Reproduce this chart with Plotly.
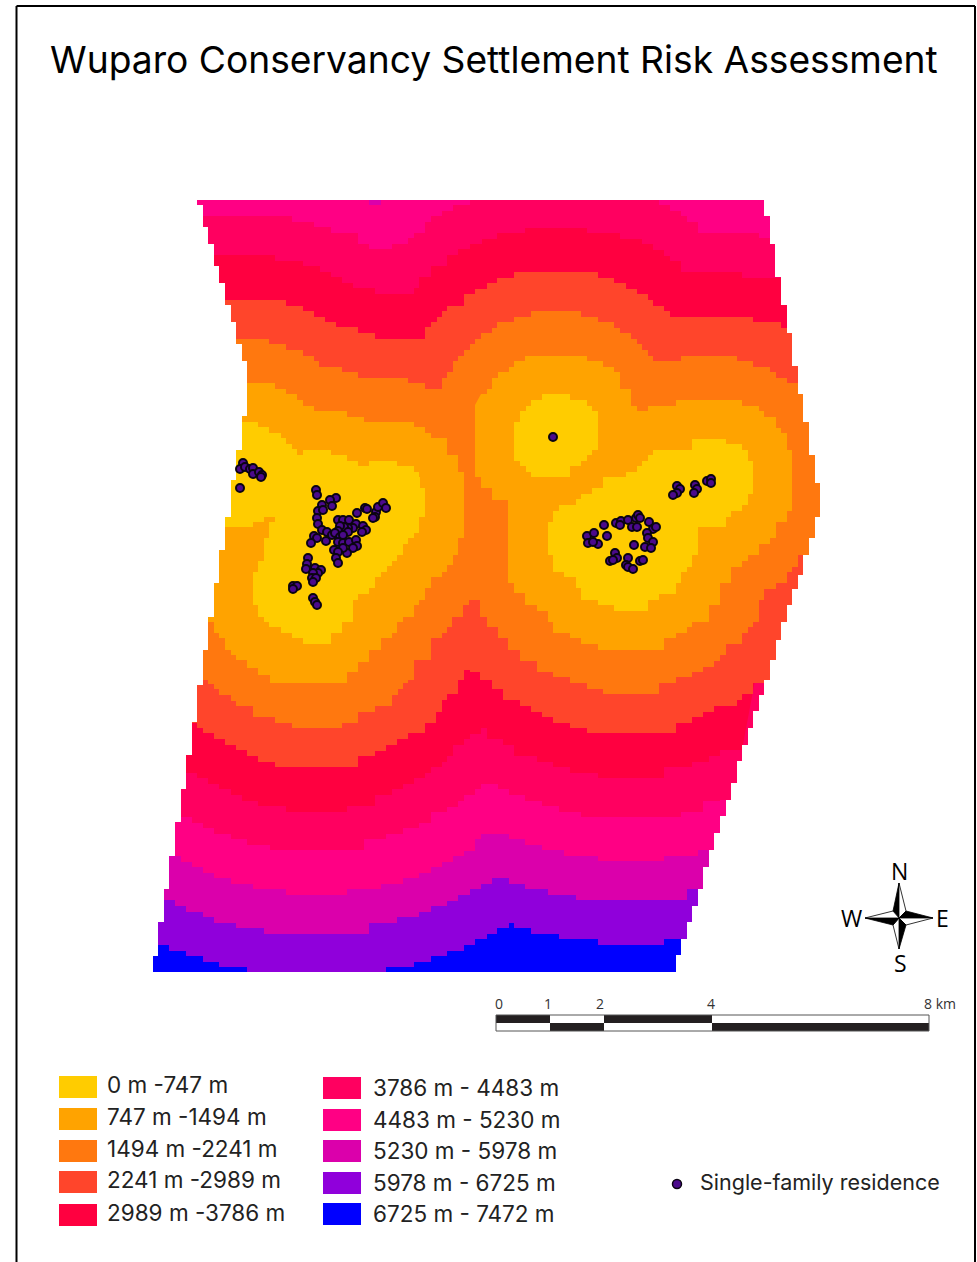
import plotly.graph_objects as go

TITLE = "Wuparo Conservancy Settlement Risk Assessment"
BAND_LABELS = ["0 m -747 m", "747 m -1494 m", "1494 m -2241 m", "2241 m -2989 m", "2989 m -3786 m",
               "3786 m - 4483 m", "4483 m - 5230 m", "5230 m - 5978 m", "5978 m - 6725 m", "6725 m - 7472 m"]
BAND_COLORS = ["#FFCC00", "#FFA300", "#FF780F", "#FF452B", "#FF0040",
               "#FF0060", "#FF0084", "#DB00AB", "#9000DB", "#0000FF"]

# Map outline
EDGE_LEFT = [(197,200),(203,205),(208,227),(214,244),(219,266),(225,283),(231,305),(236,322),(242,344),(247,361),
             (242,416),(236,450),(231,480),(225,517),(219,550),(214,583),(208,617),(203,650),(197,685),(192,722),
             (186,755),(181,789),(175,822),(169,856),(164,889),(158,922),(153,956),(153,972)]
EDGE_RIGHT = [(764,200),(770,216),(775,244),(781,277),(787,305),(792,333),(798,366),(803,394),(809,422),(815,455),
              (820,483),(815,517),(809,538),(803,555),(798,575),(792,589),(787,605),(781,622),(776,640),(770,660),
              (764,680),(759,695),(753,711),(748,728),(742,745),(737,761),(731,783),(726,800),(720,816),(714,833),
              (709,850),(703,867),(698,889),(692,906),(687,922),(681,939),(676,955),(676,972)]

# Band limits (outer limit of each distance class)
BLUE_TOP = [(158,945),(169,951),(186,956),(203,962),(219,967),(247,972),(386,972),(386,967),(414,962),(431,956),
            (447,951),(464,945),(475,939),(487,934),(497,928),(509,923),(514,928),(531,934),(559,939),(598,945),
            (664,945),(664,939),(681,939)]
R7_BOTTOM = [(703,889),(698,889),(687,895),(687,900),(576,900),(576,895),(548,889),(525,884),(509,878),(498,878),
             (492,884),(481,889),(470,895),(458,901),(447,906),(431,912),(419,917),(397,923),(369,928),(369,934),
             (264,934),(264,928),(236,923),(214,917),(203,912),(186,906),(175,900),(164,900)]
R6_BOTTOM = [(714,850),(698,850),(698,856),(664,856),(664,861),(598,861),(598,856),(564,850),(542,845),(525,839),
             (509,834),(492,834),(481,839),(475,851),(464,856),(453,862),(442,867),(431,873),(419,878),(403,884),
             (381,889),(347,895),(286,895),(286,889),(253,884),(231,878),(214,873),(203,867),(192,862),(181,856)]
R6_NOTCH = [(140,200),(369,200),(369,205),(381,205),(381,200),(830,200)]
R5_TOP = [(140,216),(292,216),(292,222),(314,222),(314,227),(331,233),(347,233),(358,244),(369,249),(392,249),
          (392,244),(397,244),(408,238),(414,233),(425,227),(425,222),(431,216),(442,211),(453,205),(470,200),
          (642,200),(659,205),(670,211),(681,216),(687,222),(698,227),(698,233),(759,233),(759,238),(830,238)]
R5_BOTTOM = [(731,800),(720,801),(703,806),(703,812),(681,812),(681,817),(581,817),(581,812),(559,806),(542,801),
             (525,795),(509,789),(498,784),(487,784),(481,789),(475,795),(464,801),(458,807),(447,812),(431,823),
             (419,828),(403,834),(386,839),(364,845),(364,850),(270,850),(270,845),(247,839),(231,834),(214,828),
             (203,823),(192,817),(140,817)]
R4_TOP = [(140,255),(275,255),(275,261),(303,266),(320,272),(331,277),(342,283),(353,288),(375,294),(408,294),
          (414,288),(419,277),(431,266),(447,255),(458,249),(470,244),(482,239),(497,233),(525,228),(587,228),
          (587,233),(614,233),(620,239),(642,244),(653,250),(664,256),(670,261),(681,267),(681,272),(742,272),
          (742,278),(830,278)]
R4_BOTTOM = [(742,750),(731,750),(720,756),(709,762),(692,767),(664,773),(664,778),(598,778),(598,773),(570,767),
             (553,762),(537,756),(514,745),(503,739),(487,728),(481,734),(470,739),(464,745),(453,756),(447,762),
             (442,767),(431,773),(425,778),(414,784),(403,789),(392,795),(375,801),(375,806),(347,806),(347,812),
             (286,812),(286,806),(258,806),(258,801),(242,795),(231,789),(219,784),(208,778),(197,773),(140,773)]
R3_TOP = [(140,300),(286,300),(286,306),(303,311),(314,317),(325,322),(336,327),(358,333),(375,339),(425,339),
          (425,327),(431,322),(437,317),(442,311),(447,306),(464,294),(475,289),(487,283),(497,278),(514,272),
          (598,272),(598,278),(614,283),(626,289),(637,294),(648,300),(653,306),(664,311),(670,317),(753,317),
          (753,322),(770,322),(781,328),(787,333),(830,333)]
R3_BOTTOM = [(764,683),(753,694),(742,700),(737,706),(714,712),(703,717),(692,723),(676,728),(676,733),(587,733),
             (587,728),(570,723),(553,717),(542,712),(531,706),(520,700),(503,689),(492,680),(480,672),(470,670),
             (464,680),(458,694),(447,700),(442,712),(436,723),(425,733),(408,739),(397,745),(386,751),(375,756),
             (358,762),(358,767),(275,767),(275,762),(258,756),(247,750),(236,745),(225,739),(214,733),(203,728),
             (197,723),(140,723)]
R2_TOP = [(140,339),(269,339),(269,344),(286,350),(303,356),(314,361),(319,367),(342,372),(358,378),(408,378),
          (408,383),(425,389),(442,389),(442,378),(447,372),(453,361),(458,356),(464,350),(470,344),(475,339),
          (481,333),(492,328),(497,322),(514,317),(531,311),(581,311),(581,317),(598,322),(614,328),(620,333),
          (631,339),(637,344),(642,350),(648,356),(653,361),(681,361),(681,356),(737,356),(737,361),(753,367),
          (770,372),(776,378),(787,383),(798,389),(830,389)]
R2_BOTTOM = [(803,555),(798,567),(792,572),(787,583),(781,583),(776,589),(764,600),(759,606),(759,622),(753,627),
             (748,633),(742,644),(726,655),(720,661),(714,667),(703,672),(692,677),(676,683),(659,689),(659,694),
             (603,694),(603,689),(587,683),(570,677),(553,672),(537,661),(520,650),(508,638),(498,627),(487,617),
             (480,600),(469,595),(469,605),(463,617),(452,627),(447,633),(442,638),(431,644),(431,660),(414,680),
             (408,683),(403,689),(398,695),(392,706),(375,712),(358,717),(358,723),(342,723),(342,728),(292,728),
             (292,723),(275,723),(275,717),(258,717),(253,706),(236,701),(231,695),(219,689),(214,684),(208,680),
             (140,680)]
R1_LEFT = [(140,383),(275,383),(275,389),(286,394),(297,400),(303,406),(314,411),(347,411),(347,417),(364,422),
           (414,422),(414,427),(425,427),(425,433),(431,438),(442,438),(447,444),(447,455),(453,455),(458,461),
           (458,472),(464,472),(464,538),(458,555),(453,565),(447,572),(442,577),(431,588),(425,600),(419,605),
           (414,617),(403,622),(397,633),(392,638),(381,650),(369,662),(358,672),(347,683),(286,683),(270,675),
           (258,668),(247,660),(236,655),(231,650),(225,638),(219,633),(214,622),(208,617),(140,617)]
R1_RIGHT = [(481,394),(487,389),(492,378),(498,372),(509,367),(514,361),(525,356),(587,356),(587,361),(598,361),
            (603,367),(614,372),(620,378),(620,389),(626,389),(631,394),(631,406),(637,406),(637,411),(648,411),
            (648,406),(676,406),(676,400),(742,400),(742,406),(753,406),(759,411),(764,417),(776,422),(776,428),
            (781,433),(787,439),(787,450),(792,450),(792,511),(787,511),(787,522),(776,527),(776,538),(770,544),
            (764,544),(759,555),(748,561),(742,567),(731,572),(731,583),(720,594),(720,605),(709,611),(709,622),
            (692,627),(687,633),(676,638),(664,644),(664,650),(598,650),(598,644),(581,638),(570,633),(553,622),
            (548,611),(537,605),(525,593),(514,583),(508,572),(508,500),(498,500),(492,488),(481,477),(475,467),
            (475,405)]
R0_LEFT = [(140,422),(258,422),(258,427),(269,427),(269,433),(281,433),(281,438),(286,444),(292,449),(297,455),
           (303,450),(331,450),(331,455),(347,455),(347,461),(358,466),(369,466),(369,461),(397,461),(397,466),
           (408,466),(414,472),(419,477),(420,488),(425,488),(425,517),(419,522),(419,533),(414,538),(408,544),
           (403,555),(397,561),(392,566),(387,572),(381,577),(375,588),(369,594),(358,600),(353,611),(353,622),
           (342,633),(331,638),(331,644),(303,644),(303,638),(292,633),(281,627),(269,622),(264,617),(258,605),
           (253,593),(253,572),(258,561),(264,555),(264,538),(269,522),(275,522),(275,517),(264,517),(264,522),
           (253,522),(253,527),(140,527)]
R0_CIRCLE = [(514,422),(520,411),(526,406),(531,400),(542,394),(570,394),(570,400),(581,400),(587,406),(592,411),
             (598,422),(598,450),(592,455),(587,461),(581,466),(570,472),(570,477),(542,477),(531,472),(526,466),
             (520,461),(514,450)]
R0_RIGHT = [(548,522),(553,511),(559,505),(576,499),(581,494),(592,488),(603,477),(626,472),(637,466),(642,461),
            (648,455),(653,450),(664,450),(692,445),(692,439),(726,439),(726,444),(737,444),(742,450),(748,461),
            (753,467),(753,494),(748,499),(748,505),(742,511),(731,517),(726,527),(698,533),(698,555),(692,567),
            (687,572),(681,583),(676,594),(659,600),(648,611),(614,611),(614,605),(598,600),(581,588),(576,577),
            (564,572),(553,555),(548,555)]

# Residences
RES_X = [243,240,245,250,253,253,259,262,261,240,316,317,336,330,322,332,318,323,317,318,322,327,314,317,311,326,332,
         338,343,349,357,365,367,376,378,383,386,375,373,356,363,366,362,353,348,344,340,338,335,340,348,343,338,343,
         349,356,357,353,347,343,334,338,336,338,308,307,306,315,321,318,313,312,316,313,293,297,293,313,315,317,
         553,677,680,677,673,695,697,694,707,711,711,604,607,587,594,588,598,593,616,621,620,628,632,637,636,638,640,
         649,653,656,647,648,653,645,651,634,615,617,610,613,628,626,628,633,640,643]
RES_Y = [463,469,467,469,468,474,472,475,477,488,490,495,498,500,505,506,511,510,518,524,530,532,536,538,543,541,535,
         520,520,520,513,508,509,512,507,503,508,517,518,524,526,530,532,528,528,527,526,531,533,537,532,535,542,543,
         542,540,546,548,553,548,550,552,558,563,558,564,569,568,570,573,573,578,578,582,586,586,589,598,602,605,
         437,486,489,493,495,485,489,493,481,479,483,525,536,536,533,543,544,542,523,521,525,520,527,527,518,515,518,
         522,529,527,533,538,542,547,548,545,553,558,561,560,558,565,567,569,561,560]

SCALE_TICKS = [0, 1, 2, 4, 8]
SCALE_X = [496, 550, 604, 712, 929]


def stepped(pts):
    out = [pts[0]]
    for (x0, y0), (x1, y1) in zip(pts, pts[1:]):
        if x1 != x0 and y1 != y0:
            out.append((x1, y0))
        out.append((x1, y1))
    return out


def vstep(pts):
    out = [pts[0]]
    for (x0, y0), (x1, y1) in zip(pts, pts[1:]):
        if x1 != x0 and y1 != y0:
            out.append((x0, y1))
        out.append((x1, y1))
    return out


def region(*rings):
    xs, ys = [], []
    for i, ring in enumerate(rings):
        if i:
            xs.append(None); ys.append(None)
        xs += [p[0] for p in ring]; ys += [p[1] for p in ring]
    return xs, ys


def add_poly(fig, rings, color, name):
    xs, ys = region(*rings)
    fig.add_trace(go.Scatter(x=xs, y=ys, mode="lines", fill="toself", fillcolor=color,
                             line=dict(width=0, color=color), name=name, hoverinfo="name", showlegend=False))


fig = go.Figure()
top = [(140, 200), (830, 200)]
regions = {
    9: [[(140, 200), (830, 200), (830, 972), (140, 972)]],
    8: [top + [(830, 939)] + stepped(BLUE_TOP)[::-1] + [(140, 945)]],
    7: [top + [(830, 889)] + stepped(R7_BOTTOM) + [(140, 900)]],
    6: [stepped(R6_NOTCH) + [(830, 850)] + stepped(R6_BOTTOM) + [(140, 856)]],
    5: [stepped(R5_TOP) + [(830, 800)] + stepped(R5_BOTTOM)],
    4: [stepped(R4_TOP) + stepped(R4_BOTTOM)],
    3: [stepped(R3_TOP) + [(830, 683)] + stepped(R3_BOTTOM)],
    2: [stepped(R2_TOP) + [(830, 555)] + stepped(R2_BOTTOM)],
    1: [stepped(R1_LEFT), stepped(R1_RIGHT)],
    0: [stepped(R0_LEFT), stepped(R0_CIRCLE), stepped(R0_RIGHT)],
}
for i in range(9, -1, -1):
    add_poly(fig, regions[i], BAND_COLORS[i], BAND_LABELS[i])

add_poly(fig, [vstep(EDGE_LEFT) + [(125, 972), (125, 200)]], "white", "mask")
add_poly(fig, [vstep(EDGE_RIGHT) + [(850, 972), (850, 200)]], "white", "mask")

fig.add_trace(go.Scatter(x=RES_X, y=RES_Y, mode="markers",
                         marker=dict(size=8, color="#4B0A8C", line=dict(color="#0a0412", width=2)),
                         name="Single-family residence", showlegend=False))
fig.add_trace(go.Scatter(x=[677], y=[1184], mode="markers",
                         marker=dict(size=9, color="#4B0A8C", line=dict(color="#0a0412", width=1.5)),
                         showlegend=False, hoverinfo="skip"))

# Compass
arms = [
    ([899, 893, 899], [883, 911, 918], "black"), ([899, 906, 899], [883, 911, 918], "white"),
    ([933, 906, 899], [918, 911, 918], "black"), ([933, 906, 899], [918, 925, 918], "white"),
    ([899, 906, 899], [949, 925, 918], "black"), ([899, 893, 899], [949, 925, 918], "white"),
    ([865, 893, 899], [918, 925, 918], "black"), ([865, 893, 899], [918, 911, 918], "white"),
]
for ax, ay, col in arms:
    fig.add_trace(go.Scatter(x=ax + ax[:1], y=ay + ay[:1], mode="lines", fill="toself", fillcolor=col,
                             line=dict(color="black", width=0.8), showlegend=False, hoverinfo="skip"))

shapes = []
for x0, y0, x1, y1 in [(16.5, 6, 16.5, 1262), (16.5, 6, 975, 6), (975, 6, 975, 1262)]:
    shapes.append(dict(type="line", xref="x", yref="y", x0=x0, y0=y0, x1=x1, y1=y1, line=dict(color="black", width=2)))

BAR = "#231F20"
for j, (a, b) in enumerate(zip(SCALE_X, SCALE_X[1:])):
    top_dark = j % 2 == 0
    shapes.append(dict(type="rect", xref="x", yref="y", x0=a, x1=b, y0=1015, y1=1023,
                       fillcolor=BAR if top_dark else "white", line=dict(width=0)))
    shapes.append(dict(type="rect", xref="x", yref="y", x0=a, x1=b, y0=1023, y1=1031,
                       fillcolor="white" if top_dark else BAR, line=dict(width=0)))
shapes.append(dict(type="rect", xref="x", yref="y", x0=496, x1=929, y0=1015, y1=1031,
                   line=dict(color="#555555", width=1), fillcolor="rgba(0,0,0,0)"))

SW_Y_A = [1076, 1108, 1140, 1171, 1204]
SW_Y_B = [1077, 1109, 1140, 1172, 1203]
TX_Y_A = [1084, 1116, 1148, 1179, 1212]
TX_Y_B = [1087, 1119, 1150, 1182, 1213]
anns = []
FONT = "Inter"
for i in range(5):
    shapes.append(dict(type="rect", xref="x", yref="y", x0=59, x1=97, y0=SW_Y_A[i], y1=SW_Y_A[i] + 22,
                       fillcolor=BAND_COLORS[i], line=dict(width=0)))
    shapes.append(dict(type="rect", xref="x", yref="y", x0=323, x1=361, y0=SW_Y_B[i], y1=SW_Y_B[i] + 22,
                       fillcolor=BAND_COLORS[5 + i], line=dict(width=0)))
    anns.append(dict(x=105, y=TX_Y_A[i], text=BAND_LABELS[i], xanchor="left"))
    anns.append(dict(x=371, y=TX_Y_B[i], text=BAND_LABELS[5 + i], xanchor="left"))
annotations = [dict(a, xref="x", yref="y", yanchor="middle", showarrow=False,
                    font=dict(family=FONT, size=22.5, color="#222222")) for a in anns]
annotations.append(dict(x=698, y=1182, text="Single-family residence", xref="x", yref="y", xanchor="left", yanchor="middle",
                        showarrow=False, font=dict(family=FONT, size=21.5, color="#222222")))
annotations.append(dict(x=494, y=59, text=TITLE, xref="x", yref="y", xanchor="center", yanchor="middle",
                        showarrow=False, font=dict(family=FONT, size=37.2, color="black")))
for v, xp in zip(SCALE_TICKS[:4], [499, 548, 600, 711]):
    annotations.append(dict(x=xp, y=1003, text=str(v), xref="x", yref="y", showarrow=False,
                            font=dict(family="Open Sans", size=14, color="#333333")))
annotations.append(dict(x=940, y=1003, text="8 km", xref="x", yref="y", showarrow=False,
                        font=dict(family="Open Sans", size=14, color="#333333")))
for t, xp, yp in [("N", 899, 871), ("W", 851, 918), ("E", 942, 918), ("S", 900, 963)]:
    annotations.append(dict(x=xp, y=yp, text=t, xref="x", yref="y", showarrow=False,
                            font=dict(family="Open Sans", size=23, color="black")))

fig.update_layout(
    width=977, height=1262, margin=dict(l=0, r=0, t=0, b=0), paper_bgcolor="white", plot_bgcolor="white",
    showlegend=False, shapes=shapes, annotations=annotations,
    xaxis=dict(range=[0, 977], visible=False, fixedrange=True),
    yaxis=dict(range=[1262, 0], visible=False, fixedrange=True),
)
fig.write_html("out.html", config={"displayModeBar": False},
               post_script="document.body.style.margin='0';document.body.style.overflow='hidden';")
